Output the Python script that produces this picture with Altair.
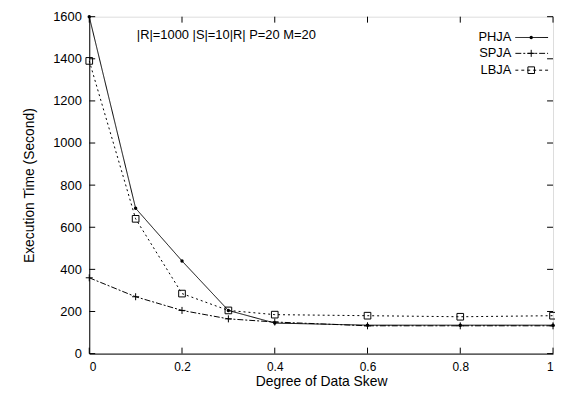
import altair as alt
import pandas as pd

skew = [0.0, 0.1, 0.2, 0.3, 0.4, 0.6, 0.8, 1.0]
phja = [1600, 690, 440, 205, 145, 135, 135, 135]
spja = [360, 270, 205, 165, 150, 132, 132, 132]
lbja = [1390, 640, 285, 205, 185, 180, 175, 180]
series = ["PHJA", "SPJA", "LBJA"]
x_ticks = [0, 0.2, 0.4, 0.6, 0.8, 1.0]
y_ticks = [0, 200, 400, 600, 800, 1000, 1200, 1400, 1600]
note = "|R|=1000  |S|=10|R|  P=20  M=20"

W, H = 468, 340
FONT = "Liberation Sans"

rows = []
for name, vals in zip(series, [phja, spja, lbja]):
    for x, y in zip(skew, vals):
        rows.append({"skew": x, "time": y, "series": name})
df = pd.DataFrame(rows)

xs = alt.Scale(domain=[0, 1], nice=False, zero=False)
ys = alt.Scale(domain=[0, 1600], nice=False)

xaxis = alt.Axis(values=x_ticks, ticks=False, grid=False, labelFontSize=12,
                 labelFont=FONT, labelColor="black", titleFont=FONT,
                 titleFontSize=14, titleFontWeight="normal", titleColor="black",
                 labelPadding=8, titlePadding=2, domainColor="black",
                 labelExpr="datum.value == 0 ? '0' : datum.value == 1 ? '1' : format(datum.value, '.1f')")
yaxis = alt.Axis(values=y_ticks, ticks=False, grid=False, labelFontSize=13, format="d",
                 labelFont=FONT, labelColor="black", titleFont=FONT,
                 titleFontSize=14, titleFontWeight="normal", titleColor="black",
                 labelPadding=8, titlePadding=16, domainColor="black")

base = alt.Chart(df)

def line(name, dash, width=1.0):
    return base.transform_filter(alt.datum.series == name).mark_line(
        color="black", strokeWidth=width, strokeDash=dash
    ).encode(
        x=alt.X("skew:Q", scale=xs, axis=xaxis, title="Degree of Data Skew"),
        y=alt.Y("time:Q", scale=ys, axis=yaxis, title="Execution Time (Second)"),
    )

plus = "M-1,0L1,0M0,-1L0,1"

def pts(name, shape, size, filled):
    return base.transform_filter(alt.datum.series == name).mark_point(
        shape=shape, size=size, filled=filled, color="black", strokeWidth=1, opacity=1
    ).encode(x=alt.X("skew:Q", scale=xs), y=alt.Y("time:Q", scale=ys))

layers = [
    line("PHJA", [1, 0], 1.0),
    line("SPJA", [6, 2, 2, 2], 1.0),
    line("LBJA", [2, 3], 1.0),
    pts("PHJA", "circle", 12, True),
    pts("SPJA", plus, 50, False),
    pts("LBJA", "square", 45, False),
]

# inward ticks (gnuplot style) on all sides
xt = pd.DataFrame({"v": x_ticks})
yt = pd.DataFrame({"v": y_ticks})
tl = 6
layers += [
    alt.Chart(xt).mark_rule(color="black").encode(x=alt.X("v:Q", scale=xs), y=alt.value(H), y2=alt.value(H - tl)),
    alt.Chart(xt).mark_rule(color="black").encode(x=alt.X("v:Q", scale=xs), y=alt.value(0), y2=alt.value(tl)),
    alt.Chart(yt).mark_rule(color="black").encode(y=alt.Y("v:Q", scale=ys), x=alt.value(0), x2=alt.value(tl)),
    alt.Chart(yt).mark_rule(color="black").encode(y=alt.Y("v:Q", scale=ys), x=alt.value(W), x2=alt.value(W - tl)),
]

# annotation
layers.append(
    alt.Chart(pd.DataFrame({"t": [note]})).mark_text(
        font=FONT, fontSize=13, align="left", baseline="middle", color="black"
    ).encode(text="t:N", x=alt.value(48), y=alt.value(19))
)

# legend
leg = pd.DataFrame({"series": series, "row": [0, 1, 2]})
ly = [21, 37, 54]
for i, (name, dash, shape, size, filled) in enumerate([
    ("PHJA", [1, 0], "circle", 12, True),
    ("SPJA", [6, 2, 2, 2], plus, 50, False),
    ("LBJA", [3, 3], "square", 45, False),
]):
    d = leg[leg.series == name]
    layers.append(alt.Chart(d).mark_text(font=FONT, fontSize=13, align="right",
                                         baseline="middle", color="black").encode(
        text="series:N", x=alt.value(426), y=alt.value(ly[i])))
    layers.append(alt.Chart(d).mark_rule(color="black", strokeWidth=1, strokeDash=dash).encode(
        x=alt.value(430), x2=alt.value(463), y=alt.value(ly[i])))
    layers.append(alt.Chart(d).mark_point(shape=shape, size=size, filled=filled, color="black",
                                          strokeWidth=1, opacity=1).encode(
        x=alt.value(446), y=alt.value(ly[i])))

chart = alt.layer(*layers).properties(
    width=W, height=H,
    autosize=alt.AutoSizeParams(type="none"),
    padding={"left": 82, "top": 7, "right": 2, "bottom": 38},
).configure_view(stroke="black", strokeWidth=1).configure(background="white")

chart.save("out.html", embed_options={"renderer": "svg", "actions": False})
